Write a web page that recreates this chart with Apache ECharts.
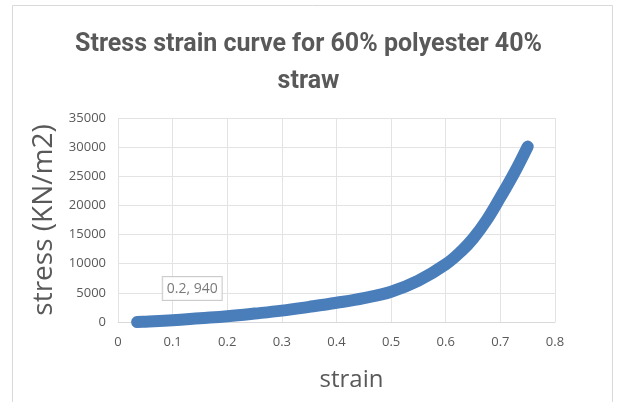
<!DOCTYPE html>
<html>
<head>
<meta charset="utf-8">
<script src="https://cdn.jsdelivr.net/npm/echarts@6/dist/echarts.min.js"></script>
<style>
html,body{margin:0;padding:0;background:#fff;}
#chart{width:617px;height:402px;}
</style>
</head>
<body>
<div id="chart"></div>
<script>
// Data
const strain = [0.035, 0.05, 0.1, 0.15, 0.2, 0.25, 0.3, 0.35, 0.4, 0.45, 0.5, 0.55, 0.6, 0.63, 0.65, 0.675, 0.7, 0.725, 0.75];
const stress = [0, 60, 300, 650, 1000, 1450, 1950, 2600, 3300, 4100, 5200, 7100, 9900, 12300, 14300, 17500, 21400, 25500, 30100];
const xTicks = [0, 0.1, 0.2, 0.3, 0.4, 0.5, 0.6, 0.7, 0.8];
const yTicks = [0, 5000, 10000, 15000, 20000, 25000, 30000, 35000];
const annotation = [0.2, 940];
const titleText = 'Stress strain curve for 60% polyester 40%\nstraw';
const xName = 'strain';
const yName = 'stress (KN/m2)';

const FONT = '"Open Sans", sans-serif';
const TFONT = 'Roboto, "Open Sans", sans-serif';
const GRAY = '#595959';

const chart = echarts.init(document.getElementById('chart'));
chart.setOption({
  animation: false,
  backgroundColor: '#fff',
  graphic: [{
    type: 'rect',
    shape: {x: 12.5, y: 5.5, width: 600, height: 420},
    style: {fill: 'none', stroke: '#d9d9d9', lineWidth: 1},
    silent: true
  }],
  title: {
    text: titleText,
    left: 'center',
    top: 21,
    textStyle: {fontFamily: TFONT, fontSize: 25, fontWeight: 'bold', color: GRAY, lineHeight: 37, align: 'center'}
  },
  grid: {left: 118, right: 62, top: 118, bottom: 80},
  xAxis: {
    type: 'value',
    min: xTicks[0], max: xTicks[xTicks.length - 1], interval: 0.1,
    name: xName, nameLocation: 'middle', nameGap: 46,
    nameTextStyle: {fontFamily: FONT, fontSize: 24, color: GRAY, padding: [0, 0, 0, 30]},
    axisLine: {show: true, lineStyle: {color: '#d9d9d9'}},
    axisTick: {show: false},
    splitLine: {show: true, lineStyle: {color: '#e3e3e3'}},
    axisLabel: {fontFamily: FONT, fontSize: 13, color: GRAY, margin: 14,
      formatter: v => String(Math.round(v * 10) / 10)}
  },
  yAxis: {
    type: 'value',
    min: yTicks[0], max: yTicks[yTicks.length - 1], interval: 5000,
    name: yName, nameLocation: 'middle', nameGap: 45,
    nameTextStyle: {fontFamily: FONT, fontSize: 28, color: GRAY},
    axisLine: {show: false},
    axisTick: {show: false},
    splitLine: {show: true, lineStyle: {color: '#e3e3e3'}},
    axisLabel: {fontFamily: FONT, fontSize: 13, color: GRAY, margin: 12,
      formatter: v => String(v)}
  },
  series: [{
    type: 'line',
    data: strain.map((x, i) => [x, stress[i]]),
    smooth: 0.4,
    showSymbol: false,
    lineStyle: {width: 12, color: '#4a7ebb', cap: 'round', join: 'round'},
    z: 3
  }, {
    type: 'scatter',
    data: [annotation],
    symbolSize: 0,
    z: 5,
    label: {
      show: true,
      formatter: p => p.value[0] + ', ' + p.value[1],
      position: 'inside',
      offset: [-35, -28],
      fontFamily: FONT, fontSize: 14, color: GRAY,
      backgroundColor: '#fff', borderColor: '#bfbfbf', borderWidth: 1,
      padding: [5, 4, 4, 4]
    }
  }]
});
</script>
</body>
</html>
